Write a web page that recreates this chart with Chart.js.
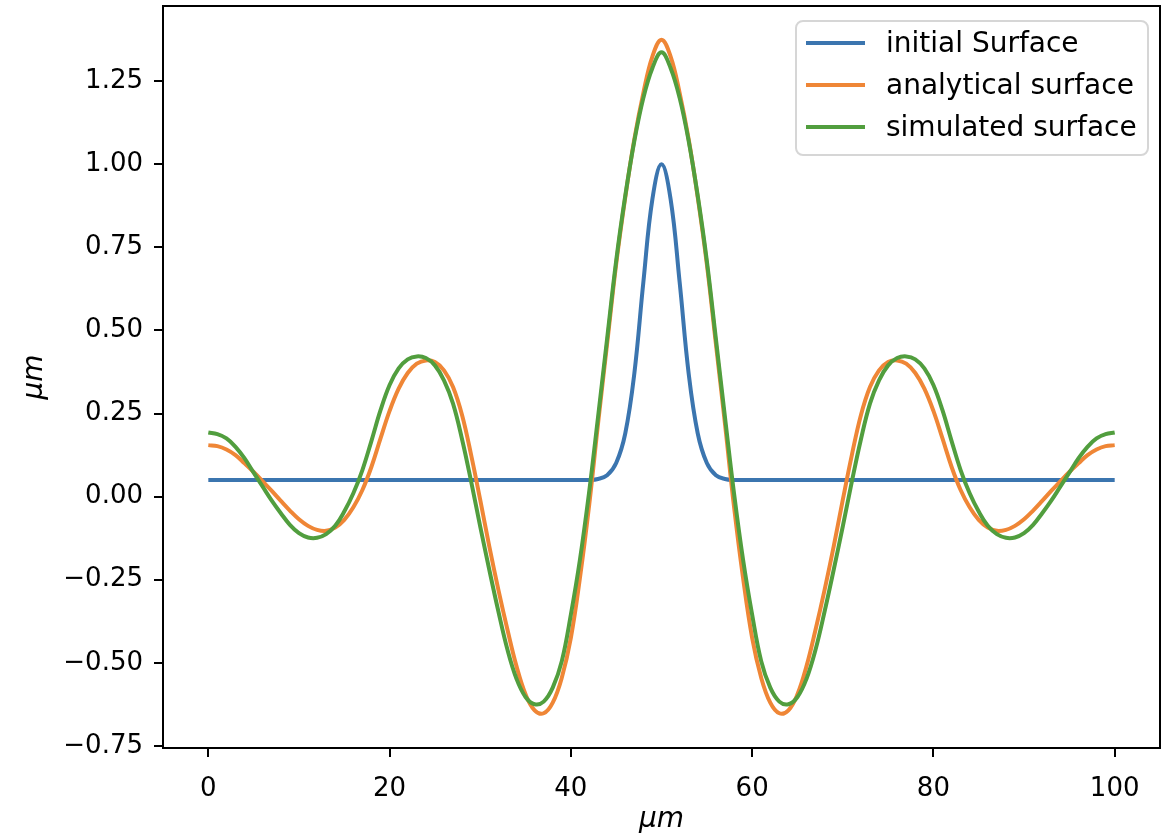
<!DOCTYPE html>
<html>
<head>
<meta charset="utf-8">
<title>surface</title>
<script src="https://cdn.jsdelivr.net/npm/chart.js@4.4.1/dist/chart.umd.min.js"></script>
<style>
  body { margin: 0; background: #ffffff; }
  canvas { display: block; }
</style>
</head>
<body>
<canvas id="line-chart" width="1171" height="835"></canvas>
<script>
// x positions (um)
var xs = [0,1,2,3,4,5,6,7,8,9,10,11,12,13,14,15,16,17,18,19,20,21,22,23,24,25,26,27,28,29,30,
  31,32,33,34,35,36,37,38,39,40,41,42,43,44,45,46,47,48,49,50,51,52,53,54,55,56,57,58,59,60,
  61,62,63,64,65,66,67,68,69,70,71,72,73,74,75,76,77,78,79,80,81,82,83,84,85,86,87,88,89,90,
  91,92,93,94,95,96,97,98,99,100];

var initialSurface = [0.05,0.05,0.05,0.05,0.05,0.05,0.05,0.05,0.05,0.05,
  0.05,0.05,0.05,0.05,0.05,0.05,0.05,0.05,0.05,0.05,
  0.05,0.05,0.05,0.05,0.05,0.05,0.05,0.05,0.05,0.05,
  0.05,0.05,0.05,0.05,0.05,0.05,0.05,0.05,0.05,0.05,
  0.05,0.05,0.05,0.053,0.064,0.101,0.19,0.37,0.646,0.896,
  1.0,
  0.896,0.646,0.37,0.19,0.101,0.064,0.053,0.05,0.05,0.05,
  0.05,0.05,0.05,0.05,0.05,0.05,0.05,0.05,0.05,0.05,
  0.05,0.05,0.05,0.05,0.05,0.05,0.05,0.05,0.05,0.05,
  0.05,0.05,0.05,0.05,0.05,0.05,0.05,0.05,0.05,0.05,
  0.05,0.05,0.05,0.05,0.05,0.05,0.05,0.05,0.05,0.05];

var analyticalSurface = [0.155,0.152,0.142,0.125,0.100,0.074,0.046,0.017,-0.013,-0.042,
  -0.068,-0.088,-0.100,-0.103,-0.093,-0.070,-0.032,0.020,0.090,0.175,
  0.258,0.325,0.372,0.400,0.410,0.405,0.380,0.330,0.245,0.125,
  -0.010,-0.150,-0.280,-0.400,-0.510,-0.595,-0.643,-0.652,-0.620,-0.545,
  -0.425,-0.245,-0.030,0.220,0.460,0.700,0.900,1.075,1.215,1.325,
  1.375,
  1.325,1.215,1.075,0.900,0.700,0.460,0.220,-0.030,-0.245,-0.425,
  -0.545,-0.620,-0.652,-0.643,-0.595,-0.510,-0.400,-0.280,-0.150,-0.010,
  0.125,0.245,0.330,0.380,0.405,0.410,0.400,0.372,0.325,0.258,
  0.175,0.090,0.020,-0.032,-0.070,-0.093,-0.103,-0.100,-0.088,-0.068,
  -0.042,-0.013,0.017,0.046,0.074,0.100,0.125,0.142,0.152,0.155];

var simulatedSurface = [0.193,0.188,0.175,0.150,0.115,0.072,0.030,-0.012,-0.050,-0.085,
  -0.110,-0.123,-0.124,-0.113,-0.088,-0.045,0.010,0.080,0.168,0.260,
  0.336,0.386,0.413,0.422,0.417,0.395,0.350,0.280,0.172,0.045,
  -0.090,-0.220,-0.345,-0.460,-0.548,-0.603,-0.625,-0.617,-0.575,-0.495,
  -0.355,-0.190,0.010,0.240,0.475,0.710,0.905,1.070,1.200,1.290,
  1.337,
  1.290,1.200,1.070,0.905,0.710,0.475,0.240,0.010,-0.190,-0.355,
  -0.495,-0.575,-0.617,-0.625,-0.603,-0.548,-0.460,-0.345,-0.220,-0.090,
  0.045,0.172,0.280,0.350,0.395,0.417,0.422,0.413,0.386,0.336,
  0.260,0.168,0.080,0.010,-0.045,-0.088,-0.113,-0.124,-0.123,-0.110,
  -0.085,-0.050,-0.012,0.030,0.072,0.115,0.150,0.175,0.188,0.193];

var seriesNames = ["initial Surface", "analytical surface", "simulated surface"];
var axisTitle = "\u03bcm";

var fontFamily = "'DejaVu Sans', sans-serif";
var fontSize = 26;
var legendSize = 28;

function points(ys) {
  return xs.map(function (x, i) { return { x: x, y: ys[i] }; });
}

// matplotlib style box: top and right spines
var frame = {
  id: 'frame',
  afterDraw: function (chart) {
    var a = chart.chartArea;
    var ctx = chart.ctx;
    ctx.save();
    ctx.strokeStyle = '#000';
    ctx.lineWidth = 2;
    ctx.beginPath();
    ctx.moveTo(a.left, a.top);
    ctx.lineTo(a.right, a.top);
    ctx.lineTo(a.right, a.bottom);
    ctx.stroke();
    ctx.restore();
  }
};

// legend inside the axes, upper right
var innerLegend = {
  id: 'innerLegend',
  afterDraw: function (chart) {
    var ctx = chart.ctx;
    var x0 = 796, y0 = 21, w = 352, h = 134, r = 7;
    ctx.save();
    ctx.beginPath();
    ctx.roundRect(x0, y0, w, h, r);
    ctx.fillStyle = 'rgba(255,255,255,0.8)';
    ctx.fill();
    ctx.strokeStyle = '#d6d6d6';
    ctx.lineWidth = 2;
    ctx.stroke();
    ctx.font = legendSize + 'px ' + fontFamily;
    ctx.textBaseline = 'middle';
    ctx.fillStyle = '#000';
    chart.data.datasets.forEach(function (ds, i) {
      var y = 43 + i * 42;
      ctx.strokeStyle = ds.borderColor;
      ctx.lineWidth = ds.borderWidth;
      ctx.beginPath();
      ctx.moveTo(806, y);
      ctx.lineTo(865, y);
      ctx.stroke();
      ctx.fillText(ds.label, 886, y + 2);
    });
    ctx.restore();
  }
};

var ctx = document.getElementById("line-chart");
var chartGraph = new Chart(ctx, {
  type: 'line',
  data: {
    datasets: [{
      label: seriesNames[0],
      data: points(initialSurface),
      borderColor: '#3b75af',
      borderWidth: 4,
      order: 2
    }, {
      label: seriesNames[1],
      data: points(analyticalSurface),
      borderColor: '#ef8636',
      borderWidth: 4,
      order: 1
    }, {
      label: seriesNames[2],
      data: points(simulatedSurface),
      borderColor: '#519e3e',
      borderWidth: 4,
      order: 0
    }]
  },
  options: {
    responsive: false,
    animation: false,
    devicePixelRatio: 1,
    layout: { padding: { left: 0, top: 6, right: 11, bottom: 0 } },
    elements: {
      point: { radius: 0 },
      line: { tension: 0.4, fill: false }
    },
    plugins: {
      legend: { display: false },
      tooltip: { enabled: false }
    },
    scales: {
      x: {
        type: 'linear',
        min: -5,
        max: 105,
        border: { display: true, color: '#000', width: 2 },
        grid: { drawOnChartArea: false, drawTicks: true, tickLength: 9, color: '#000', lineWidth: 2 },
        ticks: {
          stepSize: 20,
          includeBounds: false,
          padding: 17,
          color: '#000',
          font: { family: fontFamily, size: fontSize }
        },
        title: {
          display: true,
          text: axisTitle,
          color: '#000',
          padding: { top: 0, bottom: -2 },
          font: { family: fontFamily, size: legendSize, style: 'italic' }
        },
        afterFit: function (scale) {
          scale.height = 87;
          scale.paddingLeft = 0;
          scale.paddingRight = 0;
        }
      },
      y: {
        type: 'linear',
        min: -0.7565,
        max: 1.4765,
        border: { display: true, color: '#000', width: 2 },
        grid: { drawOnChartArea: false, drawTicks: true, tickLength: 9, color: '#000', lineWidth: 2 },
        ticks: {
          stepSize: 0.25,
          includeBounds: false,
          padding: 11,
          color: '#000',
          font: { family: fontFamily, size: fontSize },
          callback: function (v) { return v.toFixed(2).replace('-', '\u2212'); }
        },
        title: {
          display: true,
          text: axisTitle,
          color: '#000',
          padding: { top: 18, bottom: 0 },
          font: { family: fontFamily, size: legendSize, style: 'italic' }
        },
        afterFit: function (scale) {
          scale.width = 163;
          scale.paddingTop = 0;
          scale.paddingBottom = 0;
        }
      }
    }
  },
  plugins: [frame, innerLegend]
});
</script>
</body>
</html>
